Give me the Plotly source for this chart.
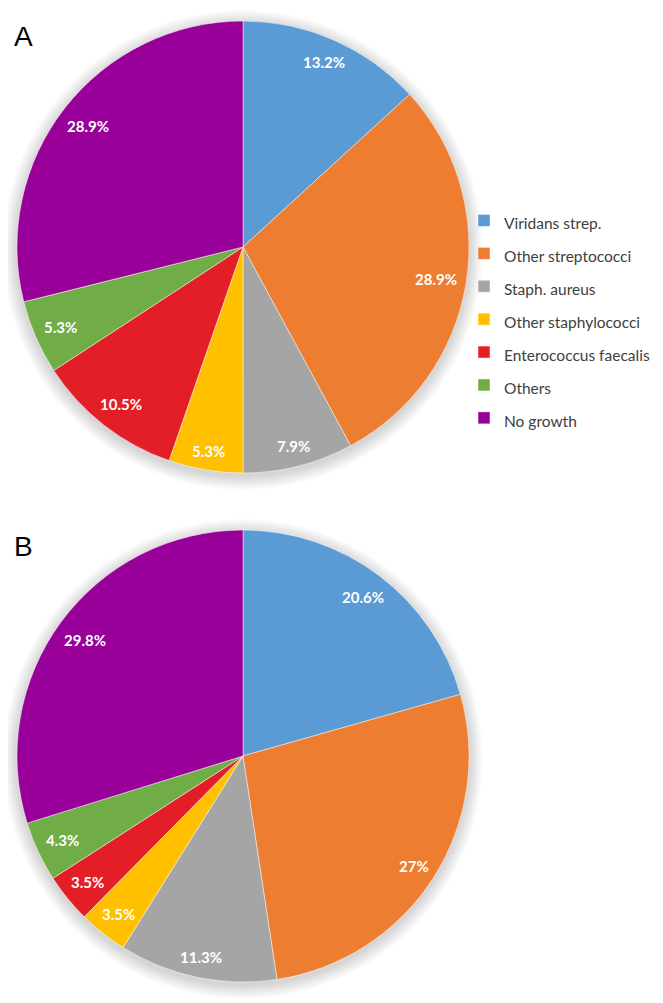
import math
import plotly.graph_objects as go

# ---------------- data ----------------
categories = ["Viridans strep.", "Other streptococci", "Staph. aureus",
              "Other staphylococci", "Enterococcus faecalis", "Others", "No growth"]
values_a = [13.2, 28.9, 7.9, 5.3, 10.5, 5.3, 28.9]
values_b = [20.6, 27, 11.3, 3.5, 3.5, 4.3, 29.8]
panel_letters = ["A", "B"]

colors = ["#5B9BD5", "#ED7D31", "#A5A5A5", "#FFC000", "#E41E26", "#70AD47", "#990099"]

# ---------------- layout geometry (page pixels) ----------------
PAGE_W, PAGE_H = 663, 1003
BODY = 8  # default page body margin
W, H = PAGE_W - BODY, PAGE_H - BODY
R = 226
CX = 243
CYS = [247, 756]
LEGEND_MID = [319.5, 829.5]
LETTER_Y = [37, 546]


def px_x(x):
    return (x - BODY) / W


def px_y(y):
    return 1 - (y - BODY) / H


fig = go.Figure()
annotations = []
shapes = []

for idx, (vals, cy) in enumerate(zip([values_a, values_b], CYS)):
    leg = "legend" if idx == 0 else "legend2"
    legend_labels = [f'<span style="font-size:15.5px">{c}</span>' for c in categories]
    fig.add_trace(go.Pie(
        values=vals,
        labels=legend_labels,
        sort=False,
        direction="clockwise",
        rotation=0,
        marker=dict(colors=colors, line=dict(color="rgba(255,255,255,0.8)", width=0.6)),
        textinfo="none",
        hoverinfo="percent",
        domain=dict(x=[px_x(CX - R), px_x(CX + R)], y=[px_y(cy + R), px_y(cy - R)]),
        legend=leg,
        showlegend=True,
    ))

    # soft drop shadow
    for i in range(1, 15):
        off = 3
        shapes.append(dict(
            type="circle", xref="paper", yref="paper", layer="below",
            x0=px_x(CX - R - i), x1=px_x(CX + R + i),
            y0=px_y(cy + off + R + i), y1=px_y(cy + off - R - i),
            fillcolor="rgba(0,0,0,0.011)", line=dict(width=0),
        ))

    # data labels ("inside end") computed from the values
    total = sum(vals)
    cum = 0.0
    Rp = R - 9
    for v in vals:
        mid = (cum + v / 2) / total * 2 * math.pi
        cum += v
        txt = f"{v:g}%"
        w = 8 * len(txt)
        h = 15
        d = Rp - (abs(math.sin(mid)) * w / 2 + abs(math.cos(mid)) * h / 2)
        x = CX + d * math.sin(mid)
        y = cy - d * math.cos(mid)
        annotations.append(dict(
            x=px_x(x), y=px_y(y), xref="paper", yref="paper",
            text=f"<b>{txt}</b>", showarrow=False,
            xanchor="center", yanchor="middle",
            font=dict(family="Lato, Calibri, sans-serif", size=15, color="white"),
        ))

    annotations.append(dict(
        x=px_x(12), y=px_y(LETTER_Y[idx]), xref="paper", yref="paper",
        text=panel_letters[idx], showarrow=False, xanchor="left", yanchor="middle",
        font=dict(family="Liberation Sans, Arial, sans-serif", size=28, color="black"),
    ))

legend_style = dict(
    font=dict(family="Lato, Calibri, sans-serif", size=23, color="#404040"),
    bgcolor="rgba(0,0,0,0)",
    xanchor="left", yanchor="middle",
    itemclick=False, itemdoubleclick=False,
)

fig.update_layout(
    width=W, height=H,
    margin=dict(l=0, r=0, t=0, b=0),
    paper_bgcolor="white",
    plot_bgcolor="white",
    annotations=annotations,
    shapes=shapes,
    legend=dict(x=px_x(464), y=px_y(LEGEND_MID[0]), **legend_style),
    legend2=dict(x=px_x(464), y=px_y(LEGEND_MID[1]), **legend_style),
)

fig.write_html("out.html")
